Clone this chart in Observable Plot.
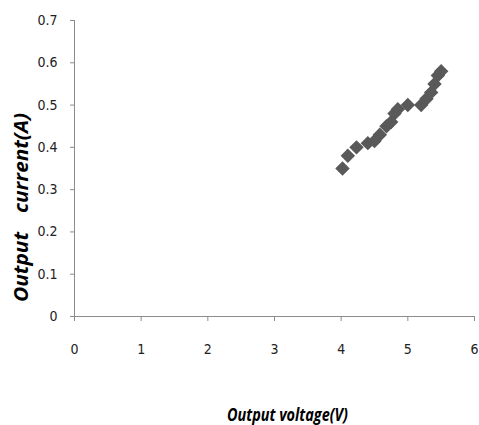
<!DOCTYPE html>
<html>
<head>
<meta charset="utf-8">
<script src="https://cdn.jsdelivr.net/npm/d3@7"></script>
<script src="https://cdn.jsdelivr.net/npm/@observablehq/plot@0.6"></script>
<style>
  html, body { margin: 0; padding: 0; background: #fff; }
  #chart { width: 479px; height: 425px; }
</style>
</head>
<body>
<div id="chart"></div>
<script>
const voltage = [4.02, 4.10, 4.23, 4.40, 4.50, 4.58, 4.68, 4.75, 4.80, 4.85, 5.00, 5.20, 5.28, 5.35, 5.40, 5.45, 5.50];
const current = [0.350, 0.380, 0.400, 0.410, 0.415, 0.430, 0.450, 0.460, 0.480, 0.490, 0.500, 0.500, 0.515, 0.530, 0.550, 0.570, 0.580];
const xTicks = [0, 1, 2, 3, 4, 5, 6];
const yTicks = [0, 0.1, 0.2, 0.3, 0.4, 0.5, 0.6, 0.7];
const xTitle = "Output voltage(V)";
const yTitleWords = ["Output", "current(A)"];

const data = voltage.map((v, i) => ({v, c: current[i]}));
const tickFont = "'Liberation Sans Narrow', 'DejaVu Sans Condensed', 'Open Sans', sans-serif";
const titleFont = "'Open Sans', sans-serif";

const chart = Plot.plot({
  width: 479,
  height: 425,
  marginLeft: 74,
  marginRight: 5,
  marginTop: 20,
  marginBottom: 109,
  style: {fontFamily: tickFont, fontSize: "14px", color: "#222", background: "#fff"},
  x: {domain: [0, 6], ticks: xTicks, tickFormat: d => String(d), tickSize: 5, tickPadding: 23, label: null},
  y: {domain: [0, 0.7], ticks: yTicks, tickFormat: d => String(d), tickSize: 4, tickPadding: 13, label: null},
  marks: [
    Plot.ruleY([0], {stroke: "#8c8c8c", strokeWidth: 1}),
    Plot.ruleX([0], {stroke: "#8c8c8c", strokeWidth: 1}),
    Plot.dot(data, {x: "v", y: "c", symbol: "diamond2", r: 6.5, fill: "#595959", stroke: "none"})
  ]
});

const svg = d3.select(chart);
svg.selectAll("g[aria-label='x-axis tick'] path, g[aria-label='y-axis tick'] path").attr("stroke", "#8c8c8c");
svg.append("text")
  .attr("x", 227).attr("y", 421)
  .attr("text-anchor", "start")
  .attr("font-family", titleFont)
  .attr("font-size", 17).attr("font-weight", "bold").attr("font-style", "italic")
  .attr("fill", "#000")
  .attr("textLength", 121).attr("lengthAdjust", "spacingAndGlyphs")
  .text(xTitle);
const yt = svg.append("text")
  .attr("transform", "translate(28,302) rotate(-90)")
  .attr("text-anchor", "start")
  .attr("font-family", titleFont)
  .attr("font-size", 19).attr("font-weight", "bold").attr("font-style", "italic")
  .attr("fill", "#000");
yt.append("tspan").attr("x", 0).attr("textLength", 70).attr("lengthAdjust", "spacingAndGlyphs").text(yTitleWords[0]);
yt.append("tspan").attr("x", 89).attr("textLength", 100).attr("lengthAdjust", "spacingAndGlyphs").text(yTitleWords[1]);

document.getElementById("chart").appendChild(chart);
</script>
</body>
</html>
